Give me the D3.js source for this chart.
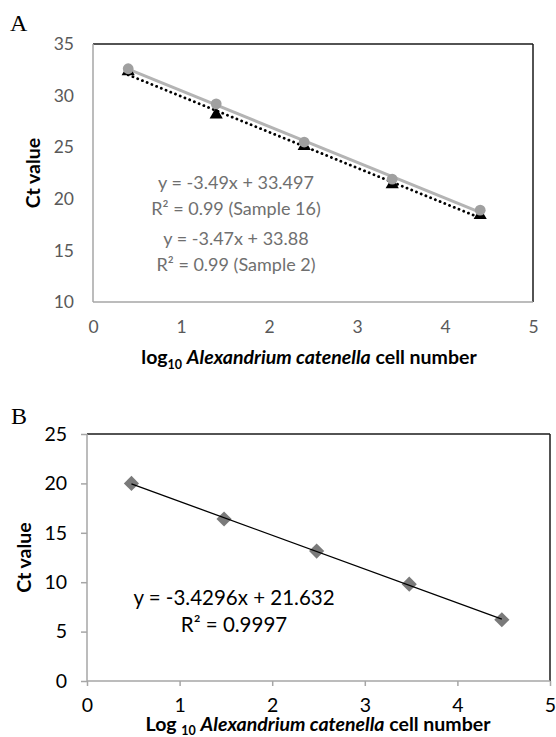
<!DOCTYPE html>
<html lang="en">
<head>
  <meta charset="UTF-8">
  <title>Ct value standard curves</title>
  <script src="https://d3js.org/d3.v7.min.js"></script>
  <style>
    body { margin: 0; background: #fff; }
    svg { display: block; }
    text { font-family: Lato, "Open Sans", sans-serif; }
    .panel-label { font-family: "Liberation Serif", "DejaVu Serif", serif; font-size: 24px; }
    .title { font-weight: bold; font-size: 19.5px; fill: #000; }
  </style>
</head>
<body>
  <svg width="556" height="737"></svg>

  <script>
    // Panel A: two samples
    const aLogCells = [0.4, 1.4, 2.4, 3.4, 4.4];
    const aSample16 = [32.6, 29.2, 25.5, 21.9, 18.9];
    const aSample2  = [32.35, 28.15, 25.1, 21.4, 18.4];
    const aXTicks = [0, 1, 2, 3, 4, 5];
    const aYTicks = [10, 15, 20, 25, 30, 35];
    const aEquations = ["y = -3.49x + 33.497", "R\u00b2 = 0.99 (Sample 16)",
                        "y = -3.47x + 33.88", "R\u00b2 = 0.99 (Sample 2)"];

    // Panel B
    const bLogCells = [0.48, 1.48, 2.48, 3.48, 4.48];
    const bCt = [20.0, 16.4, 13.15, 9.8, 6.2];
    const bXTicks = [0, 1, 2, 3, 4, 5];
    const bYTicks = [0, 5, 10, 15, 20, 25];
    const bEquations = ["y = -3.4296x + 21.632", "R\u00b2 = 0.9997"];

    const svg = d3.select("svg");
    const fmt = d3.format("d");

    // least squares fit, used for the trendlines
    function fit(xs, ys) {
      const mx = d3.mean(xs), my = d3.mean(ys);
      const slope = d3.sum(xs, (x, i) => (x - mx) * (ys[i] - my)) / d3.sum(xs, x => (x - mx) ** 2);
      return { slope, intercept: my - slope * mx };
    }

    function frame(g, x, y, grayColor) {
      const [x0, x1] = x.range(), [y0, y1] = y.range();
      g.append("line").attr("x1", x0).attr("x2", x1).attr("y1", y1).attr("y2", y1)
        .attr("stroke", "#1a1a1a").attr("stroke-width", 1.5);
      g.append("line").attr("x1", x1).attr("x2", x1).attr("y1", y1).attr("y2", y0)
        .attr("stroke", "#1a1a1a").attr("stroke-width", 1.5);
      g.append("line").attr("x1", x0).attr("x2", x0).attr("y1", y0).attr("y2", y1)
        .attr("stroke", grayColor).attr("stroke-width", 1.5);
      g.append("line").attr("x1", x0).attr("x2", x1).attr("y1", y0).attr("y2", y0)
        .attr("stroke", grayColor).attr("stroke-width", 1.5);
    }

    function trend(g, x, y, xs, ys) {
      const f = fit(xs, ys);
      const x0 = d3.min(xs), x1 = d3.max(xs);
      return g.append("line")
        .attr("x1", x(x0)).attr("y1", y(f.slope * x0 + f.intercept))
        .attr("x2", x(x1)).attr("y2", y(f.slope * x1 + f.intercept));
    }

    function xTitle(g, cx, cy, prefix, sub) {
      const t = g.append("text").attr("class", "title")
        .attr("x", cx).attr("y", cy).attr("text-anchor", "middle");
      t.append("tspan").text(prefix);
      t.append("tspan").attr("font-size", 12.5).attr("dy", sub).text("10");
      t.append("tspan").attr("dy", -sub).text(" ");
      t.append("tspan").attr("font-style", "italic").text("Alexandrium catenella");
      t.append("tspan").text(" cell number");
    }

    // ---------- Panel A ----------
    {
      const x = d3.scaleLinear().domain([0, 5]).range([93, 533]);
      const y = d3.scaleLinear().domain([10, 35]).range([302, 44]);
      const g = svg.append("g");

      svg.append("text").attr("class", "panel-label").attr("x", 10).attr("y", 31).text("A");

      g.append("g").attr("transform", `translate(0,${y.range()[0]})`)
        .call(d3.axisBottom(x).tickValues(aXTicks).tickFormat(fmt).tickSize(0).tickPadding(19))
        .call(s => s.select(".domain").remove())
        .selectAll("text").attr("font-size", 17.5).attr("fill", "#595959")
        .style("font-family", "Lato, sans-serif");

      g.append("g").attr("transform", `translate(${x.range()[0]},0)`)
        .call(d3.axisLeft(y).tickValues(aYTicks).tickFormat(fmt).tickSize(0).tickPadding(19))
        .call(s => s.select(".domain").remove())
        .selectAll("text").attr("font-size", 17.5).attr("fill", "#595959")
        .style("font-family", "Lato, sans-serif");

      frame(g, x, y, "#a6a6a6");

      trend(g, x, y, aLogCells, aSample16)
        .attr("stroke", "#b4b4b4").attr("stroke-width", 3);
      trend(g, x, y, aLogCells, aSample2)
        .attr("stroke", "#000").attr("stroke-width", 2.8)
        .attr("stroke-linecap", "round").attr("stroke-dasharray", "0.1 5");

      g.selectAll(".tri").data(aLogCells).join("path").attr("class", "tri")
        .attr("d", d3.symbol(d3.symbolTriangle, 75))
        .attr("transform", (d, i) => `translate(${x(d)},${y(aSample2[i])})`)
        .attr("fill", "#000");

      g.selectAll(".dot").data(aLogCells).join("circle").attr("class", "dot")
        .attr("cx", d => x(d)).attr("cy", (d, i) => y(aSample16[i]))
        .attr("r", 5.4).attr("fill", "#a0a0a0");

      g.selectAll(".eq").data(aEquations).join("text").attr("class", "eq")
        .attr("x", 236).attr("y", (d, i) => 189 + i * 26 + (i >= 2 ? 4 : 0))
        .attr("text-anchor", "middle").attr("font-size", 18).attr("fill", "#6f6f6f")
        .text(d => d);

      g.append("text").attr("class", "title")
        .attr("transform", `translate(40,${(y.range()[0] + y.range()[1]) / 2}) rotate(-90)`)
        .attr("text-anchor", "middle").text("Ct value");

      xTitle(g, 309, 364, "log", 5);
    }

    // ---------- Panel B ----------
    {
      const x = d3.scaleLinear().domain([0, 5]).range([87, 550]);
      const y = d3.scaleLinear().domain([0, 25]).range([681, 434]);
      const g = svg.append("g");

      svg.append("text").attr("class", "panel-label").attr("x", 11).attr("y", 424).text("B");

      g.append("g").attr("transform", `translate(0,${y.range()[0]})`)
        .call(d3.axisBottom(x).tickValues(bXTicks).tickFormat(fmt).tickSize(5).tickPadding(12))
        .call(s => s.select(".domain").remove())
        .call(s => s.selectAll("line").attr("stroke", "#a6a6a6").attr("stroke-width", 1.5))
        .selectAll("text").attr("font-size", 19.5).attr("fill", "#000")
        .style("font-family", "Lato, sans-serif");

      g.append("g").attr("transform", `translate(${x.range()[0]},0)`)
        .call(d3.axisLeft(y).tickValues(bYTicks).tickFormat(fmt).tickSize(6).tickPadding(14))
        .call(s => s.select(".domain").remove())
        .call(s => s.selectAll("line").attr("stroke", "#a6a6a6").attr("stroke-width", 1.5))
        .selectAll("text").attr("font-size", 19.5).attr("fill", "#000")
        .style("font-family", "Lato, sans-serif");

      frame(g, x, y, "#a6a6a6");

      g.selectAll(".dia").data(bLogCells).join("path").attr("class", "dia")
        .attr("d", d3.symbol(d3.symbolSquare, 115))
        .attr("transform", (d, i) => `translate(${x(d)},${y(bCt[i])}) rotate(45)`)
        .attr("fill", "#7a7a7a");

      trend(g, x, y, bLogCells, bCt).attr("stroke", "#000").attr("stroke-width", 1.3);

      g.selectAll(".eq").data(bEquations).join("text").attr("class", "eq")
        .attr("x", 234).attr("y", (d, i) => 605 + i * 27)
        .attr("text-anchor", "middle").attr("font-size", 20.5).attr("fill", "#000")
        .text(d => d);

      g.append("text").attr("class", "title")
        .attr("transform", `translate(31,${(y.range()[0] + y.range()[1]) / 2}) rotate(-90)`)
        .attr("text-anchor", "middle").text("Ct value");

      xTitle(g, 318, 731, "Log ", 3.5);
    }
  </script>
</body>
</html>
